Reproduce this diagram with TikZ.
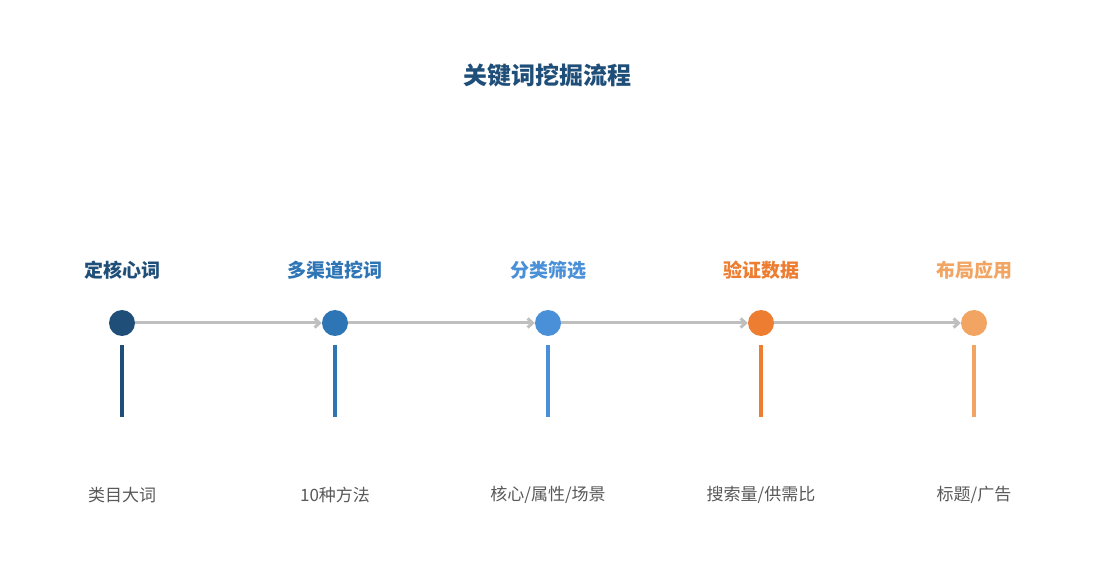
\documentclass[tikz,border=0pt]{standalone}
\usepackage{fontspec}
\newfontfamily\cjk{Noto Sans CJK SC}
\usetikzlibrary{arrows.meta}
\definecolor{c1}{HTML}{1F4E79}
\definecolor{c2}{HTML}{2E75B6}
\definecolor{c3}{HTML}{4A90D9}
\definecolor{c4}{HTML}{ED7D31}
\definecolor{c5}{HTML}{F2A563}
\definecolor{ln}{HTML}{BFBFBF}
\definecolor{tx}{HTML}{595959}
\begin{document}
\begin{tikzpicture}[x=1pt,y=-1pt,
  dot/.style={circle,minimum size=26pt,inner sep=0pt},
  stepname/.style={font=\cjk\bfseries\fontsize{19}{19}\selectfont},
  sub/.style={font=\cjk\fontsize{17}{17}\selectfont,text=tx},
  conn/.style={ln,line width=3pt,-{Straight Barb[length=5pt,width=9pt]}}]
\useasboundingbox[fill=white] (0,0) rectangle (1095,585);
\node[font=\cjk\bfseries\fontsize{24}{24}\selectfont,text=c1] (title) at (547,75) {关键词挖掘流程};
\foreach \i/\x/\c/\t/\s in {1/122/c1/定核心词/类目大词,2/335/c2/多渠道挖词/10种方法,3/548/c3/分类筛选/{核心/属性/场景},4/761/c4/验证数据/{搜索量/供需比},5/974/c5/布局应用/{标题/广告}}{
  \node[stepname,text=\c] (t\i) at (\x,270) {\t};
  \node[sub] (s\i) at (\x,495) {\s};
  \coordinate (a\i) at (\x,345);
  \coordinate (b\i) at (\x,417);
  \draw[\c,line width=3.5pt] (a\i) -- (b\i);
  \node[dot,fill=\c] (d\i) at (\x,323) {};
}
\foreach \i/\j in {1/2,2/3,3/4,4/5}{
  \draw[conn] (d\i) -- (d\j);
}
\end{tikzpicture}
\end{document}
